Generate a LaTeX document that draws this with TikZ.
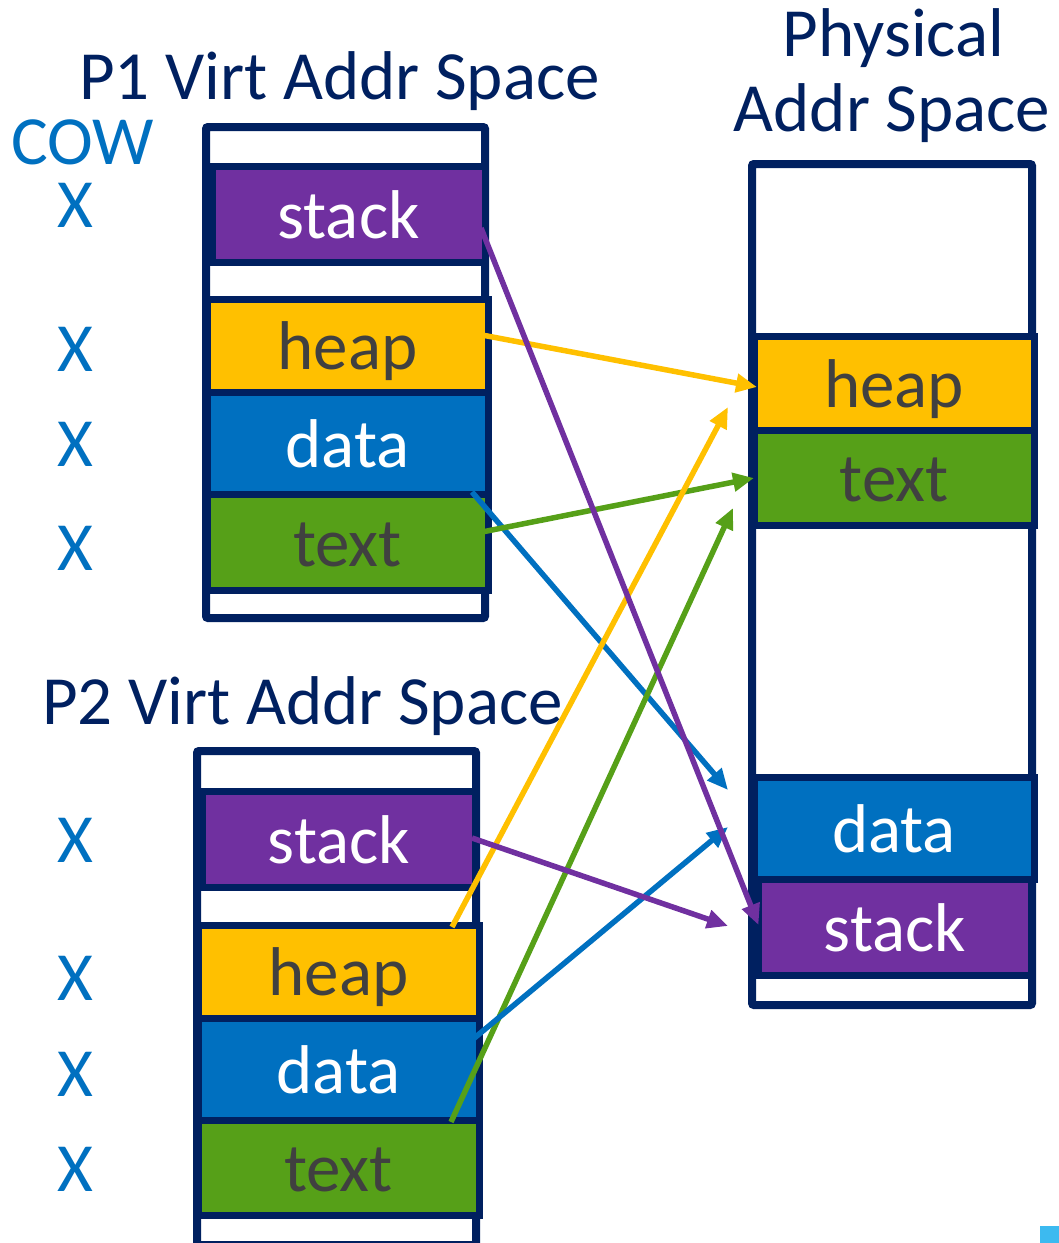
\documentclass[tikz,border=0pt]{standalone}
\usepackage{fontspec}
\setmainfont{Carlito}
\usetikzlibrary{arrows.meta}
\definecolor{navy}{HTML}{002060}
\definecolor{segpurple}{HTML}{7030A0}
\definecolor{segyellow}{HTML}{FFC000}
\definecolor{segblue}{HTML}{0070C0}
\definecolor{seggreen}{HTML}{56A018}
\definecolor{darkgraytext}{HTML}{404040}
\definecolor{cowblue}{HTML}{0070C0}
\definecolor{cornercyan}{HTML}{3CBAF0}
\newcommand\mylabfont{\fontsize{69}{80}\selectfont}
\tikzset{
  frame/.style={draw=navy, line width=8pt, fill=white, rounded corners=2pt, inner sep=0pt, outer sep=0pt},
  seg/.style={draw=navy, line width=7pt, inner sep=0pt, outer sep=0pt, text height=48pt, text depth=0pt, font=\mylabfont},
  wseg/.style={seg, text=white},
  gseg/.style={seg, text=darkgraytext},
  cowx/.style={text=cowblue, font=\mylabfont, anchor=base, inner sep=0pt},
  titletext/.style={text=navy, font=\mylabfont, anchor=base, inner sep=0pt},
  link/.style={line width=5.5pt, -{Triangle[length=21pt,width=18pt]}}
}
\begin{document}
\begin{tikzpicture}[x=1pt,y=-1pt]
\useasboundingbox (0,0) rectangle (1059,1243);
\clip (0,0) rectangle (1059,1243);

% titles
\node[titletext] (t1) at (339.5,99) {P1 Virt Addr Space};
\node[titletext] (t2) at (302.5,724) {P2 Virt Addr Space};
\node[titletext] (t3a) at (893.5,56) {Physical};
\node[titletext] (t3b) at (892,131) {Addr Space};
\node[cowx] (cow) at (83,164) {COW};

% X marks
\node[cowx] (x1) at (75.5,227) {X};
\node[cowx] (x2) at (75.5,371) {X};
\node[cowx] (x3) at (75.5,466) {X};
\node[cowx] (x4) at (75.5,570) {X};
\node[cowx] (x5) at (75.5,862) {X};
\node[cowx] (x6) at (75.5,1000) {X};
\node[cowx] (x7) at (75.5,1096) {X};
\node[cowx] (x8) at (75.5,1191) {X};

% P1
\node[frame, minimum width=279pt, minimum height=491pt] (p1frame) at (345.5,372.5) {};
\node[wseg, fill=segpurple, minimum width=273pt, minimum height=96pt] (p1stack) at (348.5,214) {stack};
\node[gseg, fill=segyellow, minimum width=281pt, minimum height=93pt] (p1heap) at (347.5,345.5) {heap};
\node[wseg, fill=segblue, minimum width=281pt, minimum height=102pt] (p1data) at (347.5,443) {data};
\node[gseg, fill=seggreen, minimum width=281pt, minimum height=96pt] (p1text) at (347.5,542) {text};

% P2
\node[frame, minimum width=279pt, minimum height=494pt] (p2frame) at (336.5,998) {};
\node[wseg, fill=segpurple, minimum width=273pt, minimum height=96pt] (p2stack) at (339,839.5) {stack};
\node[gseg, fill=segyellow, minimum width=281pt, minimum height=93pt] (p2heap) at (338.5,971.5) {heap};
\node[wseg, fill=segblue, minimum width=281pt, minimum height=102pt] (p2data) at (338.5,1069) {data};
\node[gseg, fill=seggreen, minimum width=281pt, minimum height=95pt] (p2text) at (338.5,1167.5) {text};

% Physical
\node[frame, minimum width=280pt, minimum height=841pt] (phframe) at (892,584.5) {};
\node[gseg, fill=segyellow, minimum width=280pt, minimum height=94pt] (phheap) at (894,383) {heap};
\node[gseg, fill=seggreen, minimum width=280pt, minimum height=95pt] (phtext) at (894,477.5) {text};
\node[wseg, fill=segblue, minimum width=280pt, minimum height=102pt] (phdata) at (894,828) {data};
\node[wseg, fill=segpurple, minimum width=273pt, minimum height=96pt] (phstack) at (895,927) {stack};

% connectors
\draw[link, segblue] ([shift={(-16,-2)}]p1data.south east) -- ([shift={(-26,13)}]phdata.north west);
\draw[link, segyellow] ([shift={(-6,-10.5)}]p1heap.east) -- ([shift={(3,4)}]phheap.west);
\draw[link, seggreen] ([shift={(-6,-10)}]p1text.east) -- ([shift={(0,0.5)}]phtext.west);
\draw[link, segyellow] ([shift={(-27,2)}]p2heap.north east) -- ([shift={(-26,-23)}]phheap.south west);
\draw[link, seggreen] ([shift={(-28,2)}]p2text.north east) -- ([shift={(-21,-17)}]phtext.south west);
\draw[link, segblue] ([shift={(-7,-29)}]p2data.east) -- ([shift={(-26,-1)}]phdata.west);
\draw[link, segpurple] ([shift={(-3.5,-1.5)}]p2stack.east) -- ([shift={(-30.5,-1)}]phstack.west);
\draw[link, segpurple] ([shift={(-4,14)}]p1stack.east) -- ([shift={(0,-2)}]phstack.west);

% corner mark
\fill[cornercyan] (1040,1226) rectangle (1062,1246);
\end{tikzpicture}
\end{document}
